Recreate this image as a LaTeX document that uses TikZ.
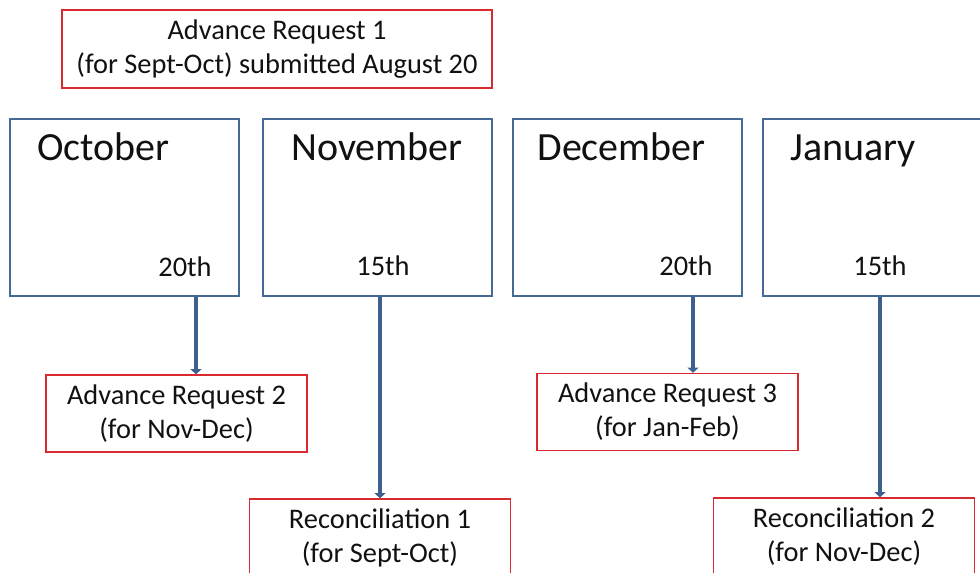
\documentclass[tikz,border=0pt]{standalone}
\usepackage{fontspec}
\setmainfont{Carlito}
\usetikzlibrary{arrows.meta,positioning,calc}
\definecolor{MonthBlue}{HTML}{46699A}
\definecolor{FlowBlue}{HTML}{3F5F8E}
\definecolor{NoteRed}{HTML}{D92B2F}
\definecolor{Ink}{HTML}{111111}
\tikzset{
  monthbox/.style={draw=MonthBlue,line width=1pt,minimum width=114.5pt,minimum height=88.5pt,inner sep=0pt},
  monthtitle/.style={anchor=base west,inner sep=0pt,font=\fontsize{20}{24}\selectfont,text=Ink},
  daylabel/.style={inner sep=0pt,font=\fontsize{14.2}{17}\selectfont,text=Ink},
  notebox/.style={draw=NoteRed,line width=0.7pt,minimum width=130.5pt,minimum height=38.5pt,align=center,inner sep=0pt,font=\fontsize{14.2}{17}\selectfont,text=Ink},
  flow/.style={-{Triangle[length=2.6pt,width=5.5pt]},draw=FlowBlue,line width=2pt}
}
\begin{document}
\begin{tikzpicture}[node distance=0pt and 11pt]
  \useasboundingbox (0,0) rectangle (490pt,-286.5pt);
  \clip (0,0) rectangle (490pt,-286.5pt);
  \node[notebox,minimum width=215pt,minimum height=39pt] (req1) at (138.5pt,-24.5pt) {Advance Request 1\\(for Sept-Oct) submitted August 20};
  \node[monthbox] (oct) at (62.25pt,-103.75pt) {};
  \node[monthbox,right=of oct] (nov) {};
  \node[monthbox,right=9.5pt of nov] (dec) {};
  \node[monthbox,right=9.5pt of dec] (jan) {};
  \node[monthtitle] (octname) at ($(oct.north west)+(14pt,-21.2pt)$) {October};
  \node[monthtitle] (novname) at ($(nov.north west)+(14.5pt,-21.2pt)$) {November};
  \node[monthtitle] (decname) at ($(dec.north west)+(12.5pt,-21.2pt)$) {December};
  \node[monthtitle] (janname) at ($(jan.north west)+(14pt,-21.2pt)$) {January};
  \node[daylabel] (octday) at ($(oct.south west)+(88pt,15.2pt)$) {20th};
  \node[daylabel] (novday) at ($(nov.south west)+(60.5pt,15.5pt)$) {15th};
  \node[daylabel] (decday) at ($(dec.south west)+(87pt,15.5pt)$) {20th};
  \node[daylabel] (janday) at ($(jan.south west)+(59pt,15.5pt)$) {15th};
  \node[notebox] (req2) at (88.25pt,-206.75pt) {Advance Request 2\\(for Nov-Dec)};
  \node[notebox] (rec1) at (190pt,-268.75pt) {Reconciliation 1\\(for Sept-Oct)};
  \node[notebox] (req3) at (333.75pt,-206pt) {Advance Request 3\\(for Jan-Feb)};
  \node[notebox] (rec2) at (422pt,-268.25pt) {Reconciliation 2\\(for Nov-Dec)};
  \draw[flow] ($(oct.south west)+(93.5pt,0)$) coordinate (octfoot) -- (octfoot |- req2.north);
  \draw[flow] ($(nov.south west)+(59pt,0)$) coordinate (novfoot) -- (novfoot |- rec1.north);
  \draw[flow] ($(dec.south west)+(90.5pt,0)$) coordinate (decfoot) -- (decfoot |- req3.north);
  \draw[flow] ($(jan.south west)+(59pt,0)$) coordinate (janfoot) -- (janfoot |- rec2.north);
\end{tikzpicture}
\end{document}
